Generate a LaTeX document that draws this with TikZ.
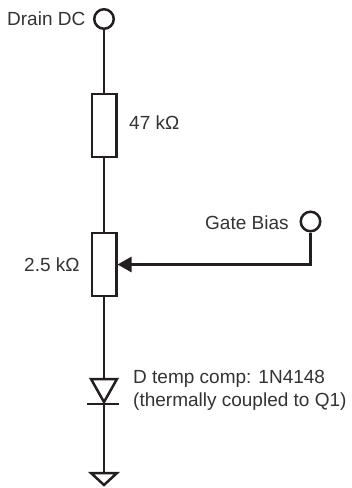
\documentclass[tikz,border=0pt]{standalone}
\usepackage{fontspec}
\setmainfont{Liberation Sans}
\usetikzlibrary{arrows.meta}
\definecolor{ink}{HTML}{231F20}
\definecolor{txt}{HTML}{333333}
\tikzset{
  wire/.style={draw=ink,line width=2.5pt},
  terminal/.style={circle,draw=ink,line width=2.5pt,fill=white,minimum size=19.5pt,inner sep=0pt},
  resistor/.style={rectangle,draw=ink,line width=2.5pt,fill=white,minimum width=24.5pt,minimum height=63pt,inner sep=0pt},
  lbl/.style={inner sep=0pt,text=txt,font=\fontsize{19pt}{24pt}\selectfont,align=left},
  tri/.style={draw=ink,line width=2.5pt,line join=miter,fill=white},
}
\begin{document}
\begin{tikzpicture}[x=1pt,y=-1pt]
\useasboundingbox (0,0) rectangle (352,488);
\node[terminal] (drain) at (104,19) {};
\node[resistor] (r1) at (104,125.5) {};
\node[resistor] (r2) at (104,264.5) {};
\node[terminal] (gate) at (310.5,221.5) {};
\coordinate (dtop) at (104,379);
\coordinate (dbar) at (104,404);
\coordinate (gtop) at (104,473);
\coordinate (corner) at (gate.south |- r2.east);
\draw[wire] (drain) -- (r1);
\draw[wire] (r1) -- (r2);
\draw[wire] (r2) -- (dtop);
\draw[wire] (dbar) -- (gtop);
\draw[tri] (91,379) -- (117,379) -- (104,402) -- cycle;
\node[coordinate] (barl) at (87,404) {};
\node[coordinate] (barr) at (119,404) {};
\draw[wire] (barl) -- (barr);
\draw[tri] (91,473) -- (117,473) -- (104,485) -- cycle;
\draw[wire,-{Triangle[length=14pt,width=15pt]}] (gate) -- (corner) -- (r2.east);
\node[lbl,anchor=base west] (t1) at (7,25) {Drain DC};
\node[lbl,anchor=base west] (t2) at (129,129) {47 kΩ};
\node[lbl,anchor=base west] (t3) at (24,271) {2.5 kΩ};
\node[lbl,anchor=base west] (t4) at (205,229) {Gate Bias};
\node[lbl,anchor=base west] (t5) at (133,383) {D temp comp: 1N4148};
\node[lbl,anchor=base west] (t6) at (133,406) {(thermally coupled to Q1)};
\end{tikzpicture}
\end{document}
